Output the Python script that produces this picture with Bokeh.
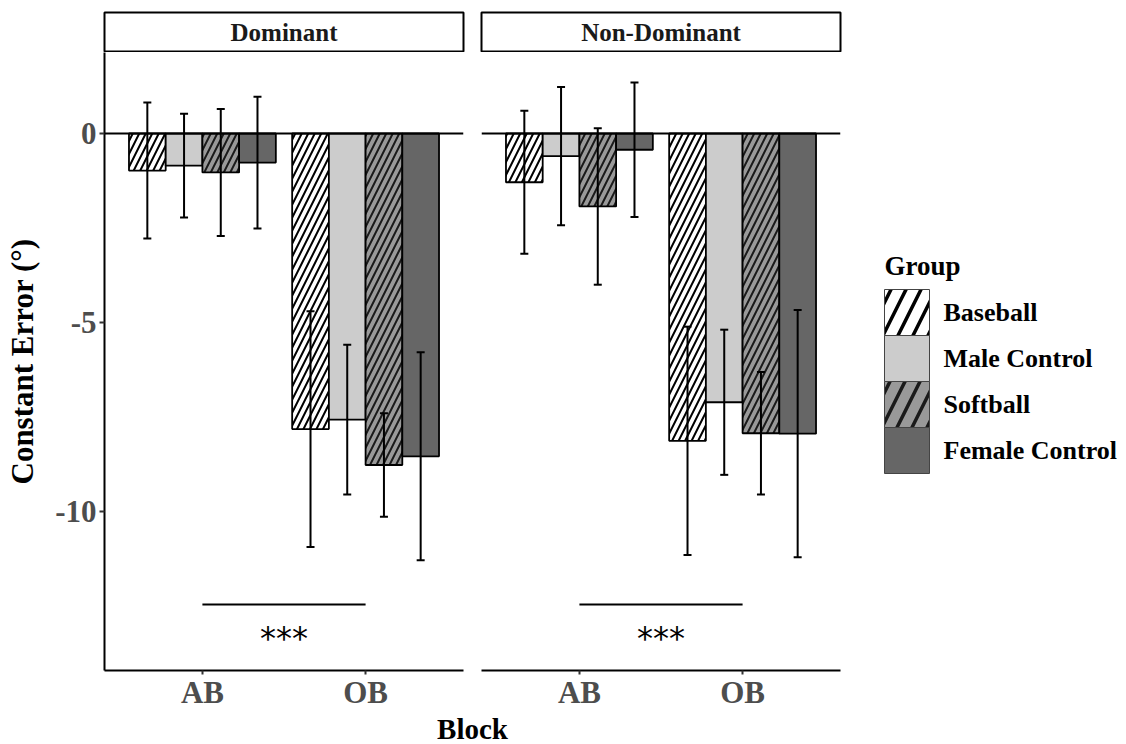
import pandas as pd
from bokeh.plotting import figure
from bokeh.models import (FactorRange, Range1d, Span, Whisker, TeeHead, ColumnDataSource,
                          FixedTicker, PrintfTickFormatter)
from bokeh.layouts import row, column
from bokeh.core.properties import value
from bokeh.embed import file_html
from bokeh.resources import INLINE

# ---------------- data ----------------
groups = ["Baseball", "Male Control", "Softball", "Female Control"]
blocks = ["AB", "OB"]
panels = ["Dominant", "Non-Dominant"]

dominant_ab_mean = [-0.98, -0.85, -1.03, -0.77]
dominant_ab_se = [1.80, 1.37, 1.68, 1.74]
dominant_ob_mean = [-7.82, -7.57, -8.77, -8.54]
dominant_ob_se = [3.12, 1.98, 1.37, 2.75]

nondominant_ab_mean = [-1.29, -0.60, -1.93, -0.43]
nondominant_ab_se = [1.89, 1.83, 2.07, 1.78]
nondominant_ob_mean = [-8.13, -7.11, -7.93, -7.94]
nondominant_ob_se = [3.02, 1.92, 1.62, 3.27]

y_ticks = [-10, -5, 0]
significance_label = "***"
significance_line_y = -12.46
significance_text_y = -13.35

y_axis_title = "Constant Error (\u00b0)"
x_axis_title = "Block"
legend_title = "Group"

# ---------------- styles ----------------
group_fills = ["#ffffff", "#cccccc", "#999999", "#666666"]
group_hatch = ["/", " ", "/", " "]
group_hatch_colors = ["#000000", "#000000", "#1a1a1a", "#000000"]
SERIF_NAME = "Liberation Serif"
SERIF = value(SERIF_NAME)
BAR_W = 0.225
Y_RANGE = Range1d(-14.206, 2.143)

STRIP_H = 52
FRAME_H = 618
PANEL_BOTTOM = 42
PANEL_H = FRAME_H + PANEL_BOTTOM
BT_H = 32


def make_source(ab_mean, ab_se, ob_mean, ob_se):
    rows = []
    for bi, (b, means, ses) in enumerate(zip(blocks, [ab_mean, ob_mean], [ab_se, ob_se])):
        for gi, g in enumerate(groups):
            rows.append(dict(
                block=b, group=g,
                x=bi + 0.5 + (gi - (len(groups) - 1) / 2) * BAR_W,
                mean=means[gi],
                lower=means[gi] - ses[gi],
                upper=means[gi] + ses[gi],
                fill=group_fills[gi],
                hatch=group_hatch[gi],
                hatch_color=group_hatch_colors[gi],
            ))
    return ColumnDataSource(pd.DataFrame(rows))


def make_panel(src, width, left, right, with_yaxis):
    p = figure(width=width, height=PANEL_H, title=None,
               x_range=FactorRange(factors=blocks, range_padding=0.1, range_padding_units="absolute"),
               y_range=Y_RANGE,
               y_axis_location="left" if with_yaxis else None,
               toolbar_location=None, output_backend="svg",
               min_border_left=left, min_border_right=right,
               min_border_top=0, min_border_bottom=PANEL_BOTTOM)
    p.outline_line_color = None
    p.grid.visible = False
    p.background_fill_color = "white"
    p.border_fill_color = "white"

    p.vbar(x="x", top="mean", bottom=0, width=BAR_W, source=src,
           fill_color="fill", hatch_pattern="hatch", hatch_color="hatch_color",
           hatch_scale=13, hatch_weight=2,
           line_color="black", line_width=1.8)

    w = Whisker(base="x", upper="upper", lower="lower", source=src,
                line_color="black", line_width=2, level="overlay",
                upper_head=TeeHead(size=8, line_width=2, line_color="black"),
                lower_head=TeeHead(size=8, line_width=2, line_color="black"))
    p.add_layout(w)

    p.add_layout(Span(location=0, dimension="width", line_color="black", line_width=2))

    p.segment(x0=[blocks[0]], x1=[blocks[1]], y0=[significance_line_y], y1=[significance_line_y],
              line_color="black", line_width=2)
    p.text(x=[len(blocks) / 2], y=[significance_text_y], text=[significance_label],
           text_font=value("DejaVu Sans"), text_font_size="32px", text_color="black",
           text_align="center", text_baseline="alphabetic")

    ax = p.xaxis[0]
    ax.axis_line_color = "black"
    ax.axis_line_width = 2
    ax.major_tick_line_color = "#333333"
    ax.major_tick_line_width = 2
    ax.major_tick_out = 4
    ax.major_tick_in = 0
    ax.minor_tick_line_color = None
    ax.major_label_text_font = SERIF_NAME
    ax.major_label_text_font_style = "bold"
    ax.major_label_text_font_size = "31px"
    ax.major_label_text_color = "#4d4d4d"
    ax.major_label_standoff = 0

    if with_yaxis:
        ay = p.yaxis[0]
        ay.ticker = FixedTicker(ticks=y_ticks)
        ay.formatter = PrintfTickFormatter(format="%d")
        ay.axis_line_color = "black"
        ay.axis_line_width = 2
        ay.major_tick_line_color = "#333333"
        ay.major_tick_line_width = 2
        ay.major_tick_out = 5
        ay.major_tick_in = 0
        ay.minor_tick_line_color = None
        ay.major_label_text_font = SERIF_NAME
        ay.major_label_text_font_style = "bold"
        ay.major_label_text_font_size = "31px"
        ay.major_label_text_color = "#4d4d4d"
        ay.major_label_standoff = 3
        ay.axis_label = y_axis_title
        ay.axis_label_text_font = SERIF_NAME
        ay.axis_label_text_font_style = "bold"
        ay.axis_label_text_font_size = "31px"
        ay.axis_label_text_color = "black"
        ay.axis_label_standoff = 12
    return p


def make_strip(label, width, left, right):
    s = figure(width=width, height=STRIP_H, title=None,
               x_range=Range1d(0, 1), y_range=Range1d(0, 1),
               x_axis_location=None, y_axis_location=None,
               toolbar_location=None, output_backend="svg",
               min_border_left=left, min_border_right=right,
               min_border_top=12, min_border_bottom=0)
    s.grid.visible = False
    s.outline_line_color = "black"
    s.outline_line_width = 2
    s.background_fill_color = "white"
    s.text(x=[0.5], y=[0.5], text=[label], text_font=SERIF, text_font_style="bold",
           text_font_size="25px", text_color="#1a1a1a",
           text_align="center", text_baseline="middle")
    return s


src_dom = make_source(dominant_ab_mean, dominant_ab_se, dominant_ob_mean, dominant_ob_se)
src_nondom = make_source(nondominant_ab_mean, nondominant_ab_se, nondominant_ob_mean, nondominant_ob_se)

P1_W, P1_L, P1_R = 472, 104, 9
P2_W, P2_L, P2_R = 375, 9, 7
p1 = make_panel(src_dom, P1_W, P1_L, P1_R, True)
p2 = make_panel(src_nondom, P2_W, P2_L, P2_R, False)
s1 = make_strip(panels[0], P1_W, P1_L, P1_R)
s2 = make_strip(panels[1], P2_W, P2_L, P2_R)

# x-axis title shared by both panels
bt = figure(width=P1_W + P2_W, height=BT_H, title=None,
            x_range=Range1d(0, 1), y_range=Range1d(0, BT_H),
            x_axis_location=None, y_axis_location=None,
            toolbar_location=None, output_backend="svg",
            min_border_left=P1_L, min_border_right=P2_R, min_border_top=0, min_border_bottom=0)
bt.grid.visible = False
bt.outline_line_color = None
bt.text(x=[0.5], y=[BT_H / 2], text=[x_axis_title], text_font=SERIF, text_font_style="bold",
        text_font_size="29px", text_color="black", text_align="center", text_baseline="middle")

# legend panel
LW, LH = 273, STRIP_H + PANEL_H + BT_H
lg = figure(width=LW, height=LH, title=None,
            x_range=Range1d(0, LW), y_range=Range1d(LH, 0),
            x_axis_location=None, y_axis_location=None,
            toolbar_location=None, output_backend="svg",
            min_border=0)
lg.grid.visible = False
lg.outline_line_color = None
key_left, key_w, key_top, key_h = 37, 45, 289, 46
n = len(groups)
lg_src = ColumnDataSource(dict(
    left=[key_left] * n, right=[key_left + key_w] * n,
    top=[key_top + i * key_h for i in range(n)],
    bottom=[key_top + (i + 1) * key_h for i in range(n)],
    fill=group_fills, hatch=group_hatch, hatch_color=group_hatch_colors,
    label=groups,
    ly=[key_top + (i + 0.5) * key_h for i in range(n)],
    lx=[96] * n,
))
lg.quad(left="left", right="right", top="top", bottom="bottom", source=lg_src,
        fill_color="fill", hatch_pattern="hatch", hatch_color="hatch_color",
        hatch_scale=30, hatch_weight=3.5, line_color="#444444", line_width=1)
lg.text(x="lx", y="ly", text="label", source=lg_src, text_font=SERIF, text_font_style="bold",
        text_font_size="26px", text_color="black", text_align="left", text_baseline="middle")
lg.text(x=[key_left], y=[265], text=[legend_title], text_font=SERIF, text_font_style="bold",
        text_font_size="27px", text_color="black", text_align="left", text_baseline="alphabetic")

layout = row(
    column(row(s1, s2, spacing=0), row(p1, p2, spacing=0), bt, spacing=0),
    lg, spacing=0)

open("out.html", "w").write(file_html(layout, INLINE))
